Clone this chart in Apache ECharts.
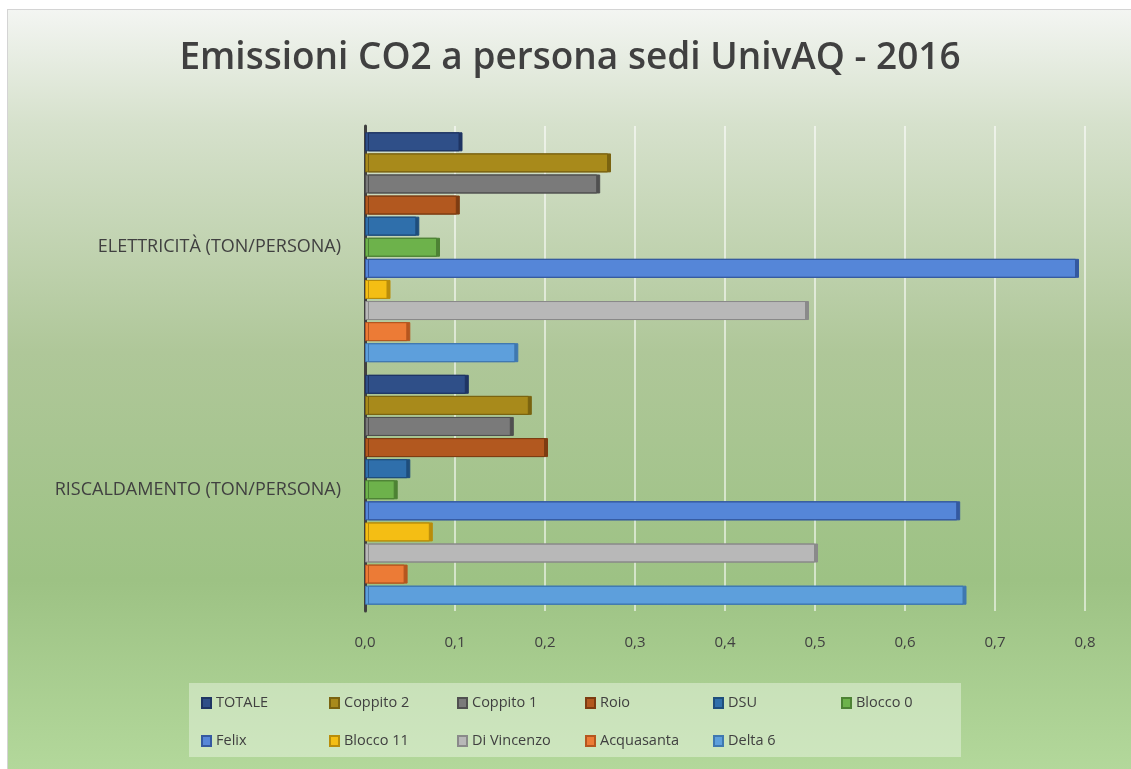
<!DOCTYPE html>
<html lang="it">
<head>
    <meta charset="UTF-8">
    <script src="https://cdnjs.cloudflare.com/ajax/libs/echarts/6.0.0/echarts.min.js"></script>
    <title>Emissioni CO2</title>
    <style>
        body { margin: 0; background: #fff; }
        #chart {
            position: absolute; left: 7px; top: 9px;
            width: 1124px; height: 760px;
            border-top: 1px solid #d4d4d4; border-left: 1px solid #d4d4d4;
        }
    </style>
</head>
<body>

<div id="chart"></div>

<script type="text/javascript">
    // categorie (dal basso verso l'alto)
    var categorie = ['RISCALDAMENTO (TON/PERSONA)', 'ELETTRICITÀ (TON/PERSONA)']

    var sedi = ['TOTALE', 'Coppito 2', 'Coppito 1', 'Roio', 'DSU', 'Blocco 0',
        'Felix', 'Blocco 11', 'Di Vincenzo', 'Acquasanta', 'Delta 6']

    // valori [riscaldamento, elettricità]
    var totale = [0.112, 0.105]
    var coppito2 = [0.182, 0.270]
    var coppito1 = [0.162, 0.258]
    var roio = [0.200, 0.102]
    var dsu = [0.047, 0.057]
    var blocco0 = [0.033, 0.080]
    var felix = [0.658, 0.790]
    var blocco11 = [0.072, 0.025]
    var diVincenzo = [0.500, 0.490]
    var acquasanta = [0.044, 0.047]
    var delta6 = [0.665, 0.167]

    var valori = [totale, coppito2, coppito1, roio, dsu, blocco0,
        felix, blocco11, diVincenzo, acquasanta, delta6]

    var colori = ['#2f4f88', '#a88a1b', '#7a7a7a', '#b2581f', '#2f6fab', '#6db24b',
        '#5586d8', '#f4be14', '#b8b8b8', '#ec7b36', '#5d9fdc']
    var bordi = ['#1f3563', '#7a6310', '#505050', '#7d3c12', '#1f4e7c', '#4d8234',
        '#3459a0', '#b98d0a', '#8a8a8a', '#b5561f', '#3f78b0']

    var myChart = echarts.init(document.getElementById('chart'));

    var seriesData = sedi.map(function (nome, i) {
        return {
            name: nome,
            type: 'bar',
            data: valori[i],
            barWidth: 19,
            barGap: '11%',
            itemStyle: {
                color: colori[i],
                borderColor: bordi[i],
                borderWidth: 1,
                shadowColor: bordi[i],
                shadowOffsetX: 3,
                shadowOffsetY: 0,
                shadowBlur: 0
            }
        }
    })

    var option = {
        backgroundColor: {
            type: 'linear', x: 0, y: 0, x2: 0, y2: 1,
            colorStops: [
                {offset: 0, color: '#f3f5f2'},
                {offset: 0.15, color: '#d6e1cc'},
                {offset: 0.45, color: '#afc799'},
                {offset: 0.75, color: '#9dc284'},
                {offset: 1, color: '#b3d89b'}
            ]
        },
        title: {
            text: 'Emissioni CO2 a persona sedi UnivAQ - 2016',
            left: 'center',
            top: 25,
            textStyle: {
                fontFamily: 'Open Sans',
                fontWeight: 600,
                fontSize: 37,
                color: '#404040'
            }
        },
        legend: {
            data: sedi,
            left: 181,
            top: 673,
            width: 760,
            padding: [7, 4, 3, 12],
            backgroundColor: 'rgba(240,248,235,0.45)',
            itemWidth: 9,
            itemHeight: 10,
            itemGap: 12,
            icon: 'rect',
            textStyle: {
                fontFamily: 'Open Sans',
                fontSize: 14.5,
                color: '#404040',
                width: 101,
                lineHeight: 26
            }
        },
        grid: {
            left: 357,
            right: 47,
            top: 116,
            height: 485
        },
        xAxis: {
            type: 'value',
            min: 0,
            max: 0.8,
            interval: 0.1,
            axisLine: {show: false},
            axisTick: {show: false},
            axisLabel: {
                margin: 24,
                fontFamily: 'Open Sans',
                fontSize: 15,
                color: '#404040',
                formatter: function (v) {
                    return v.toFixed(1).replace('.', ',')
                }
            },
            splitLine: {
                lineStyle: {color: 'rgba(255,255,255,0.75)', width: 1.5}
            }
        },
        yAxis: {
            type: 'category',
            data: categorie,
            offset: 6,
            axisLine: {lineStyle: {color: '#404040', width: 3}},
            axisTick: {show: false},
            axisLabel: {
                margin: 18,
                fontFamily: 'Open Sans',
                fontSize: 18,
                color: '#404040'
            }
        },
        series: seriesData
    };

    myChart.setOption(option);
</script>
</body>
</html>
